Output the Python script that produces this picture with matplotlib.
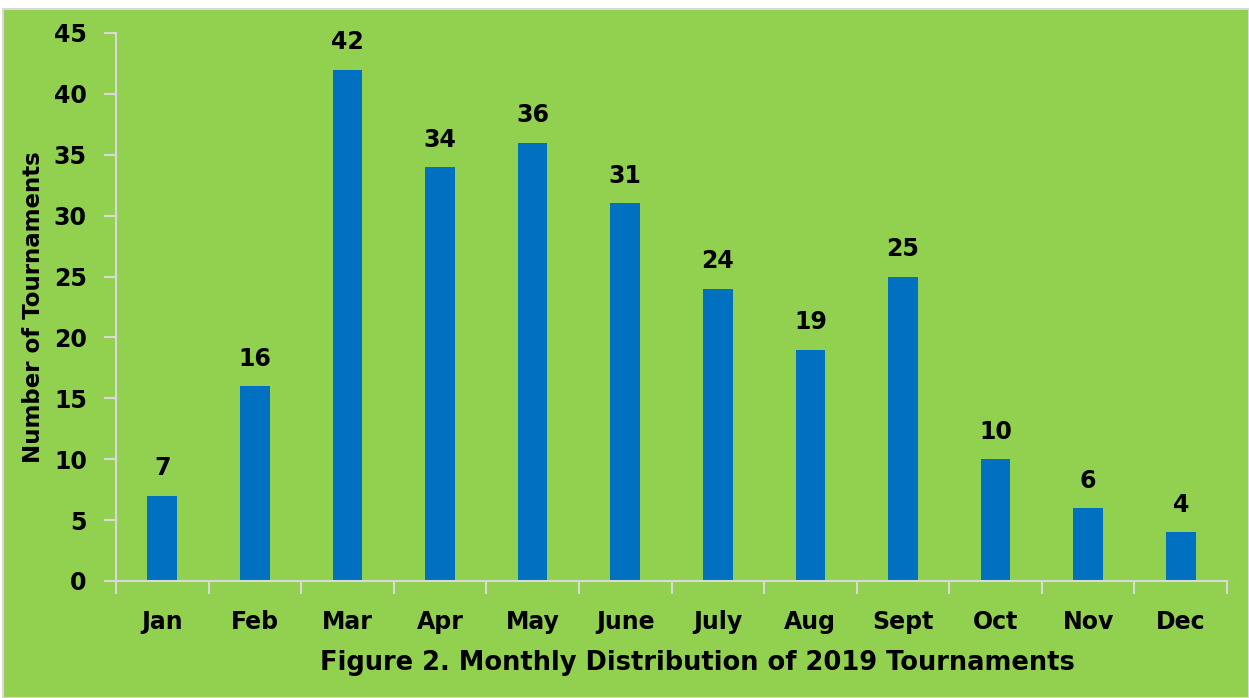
import numpy as np
import matplotlib.pyplot as plt
from matplotlib.patches import Rectangle

months = ["Jan", "Feb", "Mar", "Apr", "May", "June", "July", "Aug", "Sept", "Oct", "Nov", "Dec"]
tournaments = [7, 16, 42, 34, 36, 31, 24, 19, 25, 10, 6, 4]
yticks = [0, 5, 10, 15, 20, 25, 30, 35, 40, 45]

green = "#92D050"
blue = "#0070C0"
grey = "#D9D9D9"

plt.rcParams["font.family"] = ["DejaVu Sans"]
plt.rcParams["font.weight"] = "bold"

fig = plt.figure(figsize=(12.49, 6.98), dpi=100)
fig.patch.set_facecolor("white")
# green panel with thin grey border, leaving a white strip on top
fig.patches.append(Rectangle((3 / 1249, 0), 1 - 3 / 1249, 1 - 9 / 698,
                             transform=fig.transFigure, facecolor=green,
                             edgecolor=grey, linewidth=1.5, zorder=-1))

ax = fig.add_axes([116 / 1249, 1 - 581 / 698, (1227 - 116) / 1249, (581 - 33) / 698])
ax.set_facecolor("none")

x = np.arange(len(months))
bars = ax.bar(x, tournaments, width=0.32, color=blue, zorder=2)

for xi, v in zip(x, tournaments):
    ax.annotate(str(v), (xi, v), xytext=(0, 11), textcoords="offset points",
                ha="center", va="bottom", fontsize=17, fontweight="bold")

ax.set_xlim(-0.5, len(months) - 0.5)
ax.set_ylim(0, 45)
ax.set_yticks(yticks)

# boundary ticks between categories, labels centred under bars
ax.set_xticks(np.arange(-0.5, len(months)), labels=[""] * (len(months) + 1))
ax.set_xticks(x, labels=months, minor=True)
ax.tick_params(axis="x", which="major", length=9, width=1.5, color=grey, direction="out")
ax.tick_params(axis="x", which="minor", length=0, pad=21, labelsize=17)
ax.tick_params(axis="y", length=9, width=1.5, color=grey, direction="out", labelsize=17, pad=12)

for side in ["top", "right"]:
    ax.spines[side].set_visible(False)
for side in ["left", "bottom"]:
    ax.spines[side].set_color(grey)
    ax.spines[side].set_linewidth(1.5)

ax.set_ylabel("Number of Tournaments", fontsize=16.5, fontweight="bold", labelpad=6)

fig.text(697 / 1249, 1 - 663 / 698, "Figure 2. Monthly Distribution of 2019 Tournaments",
         ha="center", va="center", fontsize=18.5, fontweight="bold")

fig.savefig("out.png", dpi=100, facecolor=fig.get_facecolor())
